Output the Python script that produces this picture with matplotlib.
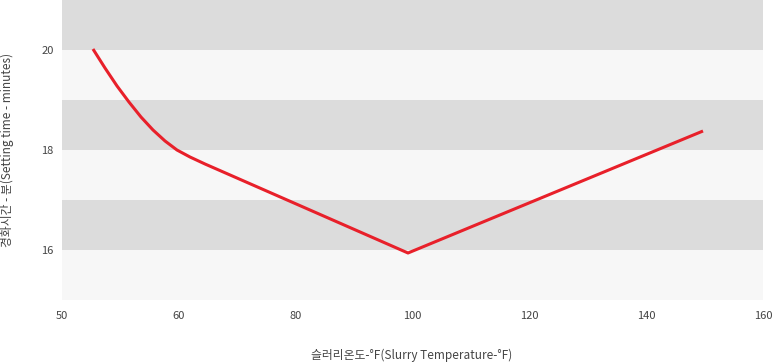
import numpy as np
import matplotlib.pyplot as plt

plt.rcParams['font.family'] = ['Noto Sans CJK KR', 'DejaVu Sans']

# x축 눈금 (등간격 카테고리처럼 배치됨)
x_ticks = [50, 60, 80, 100, 120, 140, 160]
y_ticks = [16, 18, 20]

# 곡선 데이터
temps = [52.65, 53.68, 54.71, 55.73, 56.76, 57.79, 58.82, 59.84, 61.91, 64.48, 99.23, 149.73]
times = [20.02, 19.64, 19.28, 18.96, 18.66, 18.40, 18.18, 18.00, 17.86, 17.72, 15.94, 18.38]

# 온도 -> 눈금 위치 (눈금 사이가 같은 간격)
pos = np.interp(temps, x_ticks, np.arange(len(x_ticks)))

fig = plt.figure(figsize=(7.72, 3.64), dpi=100)
ax = fig.add_axes([62 / 772, 64 / 364, 701 / 772, 300 / 364])

# 회색 띠 배경
for lo in range(15, 21):
    color = '#dcdcdc' if lo % 2 == 0 else '#f7f7f7'
    ax.axhspan(lo, lo + 1, color=color, lw=0, zorder=0)

ax.plot(pos, times, color='#e8202a', lw=2.2, solid_joinstyle='round',
        solid_capstyle='butt', zorder=3)

ax.set_xlim(0, len(x_ticks) - 1)
ax.set_ylim(15, 21)
ax.set_xticks(np.arange(len(x_ticks)))
ax.set_xticklabels([str(t) for t in x_ticks])
ax.set_yticks(y_ticks)
ax.tick_params(length=0, labelsize=8, colors='#444444')
ax.tick_params(axis='x', pad=8)
ax.tick_params(axis='y', pad=6)
for s in ax.spines.values():
    s.set_visible(False)

fig.text(412 / 772, 1 - 355 / 364, '슬러리온도-°F(Slurry Temperature-°F)',
         fontsize=8.5, color='#444444', ha='center', va='center')
ax.set_ylabel('경화시간 - 분(Setting time - minutes)', fontsize=8.5, color='#444444', labelpad=20)

plt.savefig('out.png', dpi=100)
